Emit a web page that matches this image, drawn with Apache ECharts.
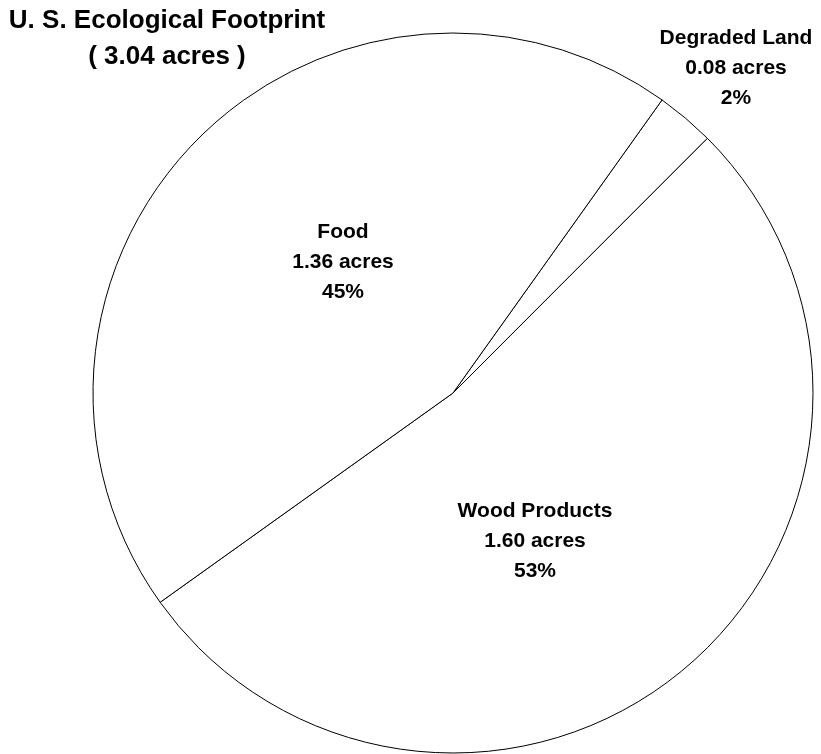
<!DOCTYPE html>
<html>
<head>
<meta charset="utf-8">
<script src="https://cdn.jsdelivr.net/npm/echarts@6/dist/echarts.min.js"></script>
<style>
  html, body { margin: 0; padding: 0; background: #fff; }
  #chart { width: 821px; height: 754px; }
</style>
</head>
<body>
<div id="chart"></div>
<script>
// slices in drawing order, clockwise from the top right
const categories = ['Degraded Land', 'Wood Products', 'Food']
const acres = [0.08, 1.60, 1.36]
const percentLabels = ['2%', '53%', '45%']

const total = acres.reduce((a, b) => a + b, 0)

// where each label's block is centred
const labelSpots = [[736, 68], [535, 541], [343, 262]]

const chart = echarts.init(document.getElementById('chart'))
chart.setOption({
  backgroundColor: '#fff',
  animation: false,
  graphic: [{
    type: 'text',
    x: 167,
    y: 39,
    style: {
      text: 'U. S. Ecological Footprint\n( ' + total.toFixed(2) + ' acres )',
      align: 'center',
      verticalAlign: 'middle',
      fontFamily: 'Liberation Sans',
      fontWeight: 'bold',
      fontSize: 26,
      lineHeight: 36,
      fill: '#000'
    }
  }],
  series: [{
    type: 'pie',
    center: [453, 393],
    radius: 360,
    startAngle: 54.5,
    clockwise: true,
    silent: true,
    emphasis: { disabled: true },
    itemStyle: {
      color: '#fff',
      borderColor: '#000',
      borderWidth: 1
    },
    label: {
      show: true,
      position: 'inside',
      color: '#000',
      fontFamily: 'Liberation Sans',
      fontWeight: 'bold',
      fontSize: 21,
      lineHeight: 30,
      align: 'center',
      formatter: p => p.name + '\n' + acres[p.dataIndex].toFixed(2) + ' acres\n' + percentLabels[p.dataIndex]
    },
    labelLine: { show: false },
    labelLayout: params => ({
      x: labelSpots[params.dataIndex][0],
      y: labelSpots[params.dataIndex][1],
      align: 'center',
      verticalAlign: 'middle'
    }),
    data: categories.map((name, i) => ({ name: name, value: acres[i] }))
  }]
})
</script>
</body>
</html>
